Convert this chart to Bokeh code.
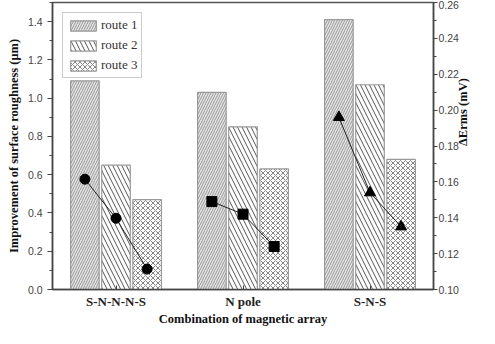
import math
from bokeh.plotting import figure
from bokeh.models import (Range1d, LinearAxis, FixedTicker, Legend, LegendItem,
                          CustomJSTickFormatter)
from bokeh.embed import file_html
from bokeh.resources import INLINE

categories = ["S-N-N-N-S", "N pole", "S-N-S"]
route1 = [1.09, 1.03, 1.41]
route2 = [0.65, 0.85, 1.07]
route3 = [0.47, 0.63, 0.68]
aerms_circle = [0.1615, 0.1397, 0.1114]
aerms_square = [0.149, 0.142, 0.124]
aerms_triangle = [0.196, 0.154, 0.135]

xs = [1, 2, 3]
off = 0.245
bw = 0.225

p = figure(width=479, height=328, output_backend="svg", toolbar_location=None,
           x_range=Range1d(0.5, 3.5), y_range=Range1d(0, 1.5),
           min_border_left=52, min_border_right=0, min_border_top=2, min_border_bottom=0)
p.extra_y_ranges = {"ae": Range1d(0.10, 0.26)}
p.grid.visible = False
p.outline_line_color = "#555555"
p.outline_line_width = 1.5
p.background_fill_color = "white"
p.border_fill_color = "white"

line_c = "#999999"
r1 = p.vbar(x=[x - off for x in xs], top=route1, width=bw, fill_color="#e4e4e4",
            line_color=line_c, line_width=1.2, hatch_pattern="right_diagonal_line",
            hatch_color="#777777", hatch_scale=5, hatch_weight=0.7)
r2 = p.vbar(x=xs, top=route2, width=bw, fill_color="white",
            line_color=line_c, line_width=1.2, hatch_pattern="left_diagonal_line",
            hatch_color="#555555", hatch_scale=9, hatch_weight=1)
r3 = p.vbar(x=[x + off for x in xs], top=route3, width=bw, fill_color="white",
            line_color=line_c, line_width=1.2, hatch_pattern="diagonal_cross",
            hatch_color="#666666", hatch_scale=5, hatch_weight=0.8)

pos = [[1 - off, 1, 1 + off], [2 - off, 2, 2 + off], [3 - off, 3, 3 + off]]
p.line(pos[0], aerms_circle, y_range_name="ae", color="#222222", line_width=1)
p.scatter(pos[0], aerms_circle, y_range_name="ae", marker="circle", size=10, color="black")
p.line(pos[1], aerms_square, y_range_name="ae", color="#222222", line_width=1)
p.scatter(pos[1], aerms_square, y_range_name="ae", marker="square", size=10, color="black")
p.line(pos[2], aerms_triangle, y_range_name="ae", color="#222222", line_width=1)
p.scatter(pos[2], aerms_triangle, y_range_name="ae", marker="triangle", size=11, color="black")

tick_font = "Liberation Sans"
lab_font = "Liberation Serif"

la = p.yaxis[0]
la.ticker = FixedTicker(ticks=[0, 0.2, 0.4, 0.6, 0.8, 1.0, 1.2, 1.4],
                        minor_ticks=[0.1, 0.3, 0.5, 0.7, 0.9, 1.1, 1.3, 1.5])
la.formatter = CustomJSTickFormatter(code="return tick.toFixed(1)")
la.axis_label = "Improvement of surface roughness (\u03bcm)"

ra = LinearAxis(y_range_name="ae", axis_label="\u0394Erms (mV)")
ra.ticker = FixedTicker(ticks=[0.10, 0.12, 0.14, 0.16, 0.18, 0.20, 0.22, 0.24, 0.26],
                        minor_ticks=[0.11, 0.13, 0.15, 0.17, 0.19, 0.21, 0.23, 0.25])
ra.formatter = CustomJSTickFormatter(code="return tick.toFixed(2)")
p.add_layout(ra, "right")
ra.axis_label_orientation = math.pi / 2

xa = p.xaxis[0]
xa.ticker = FixedTicker(ticks=xs, minor_ticks=[])
xa.major_label_overrides = {1: categories[0], 2: categories[1], 3: categories[2]}
xa.axis_label = "Combination of magnetic array"

for ax in [la, ra, xa]:
    ax.axis_line_color = "#444444"
    ax.axis_line_width = 1.5
    ax.major_tick_line_color = "#444444"
    ax.minor_tick_line_color = "#444444"
    ax.major_tick_in = 0
    ax.major_tick_out = 5
    ax.minor_tick_in = 0
    ax.minor_tick_out = 3
    ax.major_label_text_font = tick_font
    ax.major_label_text_font_size = "10.5px"
    ax.major_label_text_color = "#444444"
    ax.axis_label_text_font = lab_font
    ax.axis_label_text_font_style = "bold"
    ax.axis_label_text_font_size = "12.5px"
    ax.axis_label_text_color = "#111111"
    ax.axis_label_standoff = 0
    ax.major_label_standoff = 1

la.major_label_standoff = 5
la.axis_label_standoff = 4
ra.major_tick_out = 4
ra.axis_label_standoff = 1

xa.major_label_text_font = lab_font
xa.major_label_text_font_style = "bold"
xa.major_label_text_font_size = "13px"
xa.major_label_text_color = "#222222"
xa.major_tick_out = 0
xa.major_tick_in = 4
xa.major_label_standoff = 4
xa.axis_label_standoff = 0

legend = Legend(items=[LegendItem(label="route 1", renderers=[r1]),
                       LegendItem(label="route 2", renderers=[r2]),
                       LegendItem(label="route 3", renderers=[r3])],
                location="top_left")
legend.label_text_font = lab_font
legend.label_text_font_size = "13px"
legend.label_text_color = "#333333"
legend.glyph_width = 32
legend.glyph_height = 13
legend.spacing = 4
legend.padding = 4
legend.margin = 10
legend.label_standoff = 2
legend.border_line_color = "#999999"
legend.border_line_width = 1
legend.label_height = 13
p.add_layout(legend)

open("out.html", "w").write(file_html(p, INLINE))
